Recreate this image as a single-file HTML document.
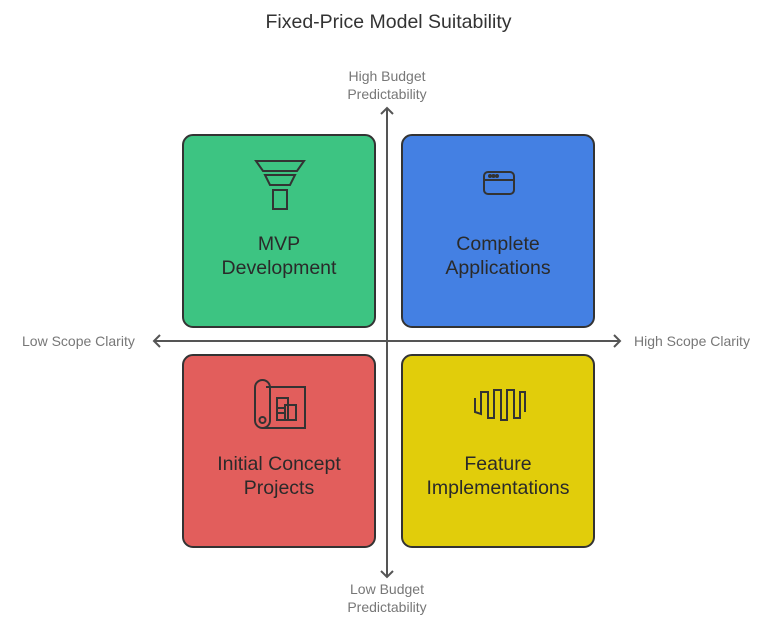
<!DOCTYPE html>
<html><head><style>
body{margin:0;width:777px;height:628px;background:#fff;font-family:"Liberation Sans",sans-serif;position:relative;overflow:hidden}
.t{position:absolute;text-align:center;white-space:nowrap}
.box{position:absolute;width:194px;height:194px;border:2px solid #333;border-radius:11px;box-sizing:border-box}
.lab{position:absolute;left:0;right:0;top:96px;text-align:center;font-size:19.5px;line-height:24px;color:#2a2a2a}
.ax{color:#777;font-size:14px;line-height:18px}
</style></head><body>
<div class="t" style="left:0;width:777px;top:11px;font-size:19.5px;color:#333">Fixed-Price Model Suitability</div>
<svg width="777" height="628" style="position:absolute;left:0;top:0">
<g stroke="#555" stroke-width="2" fill="none">
<line x1="387" y1="108" x2="387" y2="577"/>
<line x1="154" y1="341" x2="620" y2="341"/>
<polyline points="381,114 387,108 393,114"/>
<polyline points="381,571 387,577 393,571"/>
<polyline points="160,335 154,341 160,347"/>
<polyline points="614,335 620,341 614,347"/>
</g>
</svg>
<div class="t ax" style="left:327px;width:120px;top:67px">High Budget<br>Predictability</div>
<div class="t ax" style="left:327px;width:120px;top:580px">Low Budget<br>Predictability</div>
<div class="t ax" style="left:22px;top:332px">Low Scope Clarity</div>
<div class="t ax" style="left:634px;top:332px">High Scope Clarity</div>
<div class="box" style="left:182px;top:134px;background:#3dc482"><div class="lab">MVP<br>Development</div>
<svg style="position:absolute;left:70px;top:22px" width="52" height="54" fill="none" stroke="#333" stroke-width="2"><polygon points="2,3 50,3 43,13 9,13"/><polygon points="11,17 41,17 36,27 16,27"/><rect x="19" y="32" width="14" height="19"/></svg></div>
<div class="box" style="left:401px;top:134px;background:#4480e3"><div class="lab">Complete<br>Applications</div>
<svg style="position:absolute;left:79px;top:34px" width="36" height="28" fill="none" stroke="#333" stroke-width="2"><rect x="2" y="2" width="30" height="22" rx="4"/><line x1="2" y1="10" x2="32" y2="10"/><circle cx="8" cy="6" r="1" fill="#333"/><circle cx="11.5" cy="6" r="1" fill="#333"/><circle cx="15" cy="6" r="1" fill="#333"/></svg></div>
<div class="box" style="left:182px;top:354px;background:#e25e5c"><div class="lab">Initial Concept<br>Projects</div>
<svg style="position:absolute;left:69px;top:22px" width="54" height="54" fill="none" stroke="#333" stroke-width="2"><rect x="2" y="2" width="15" height="48" rx="7.5"/><circle cx="9.5" cy="42" r="3"/><polyline points="13,9 52,9 52,50 9,50"/><rect x="24" y="20" width="11" height="22"/><rect x="32" y="27" width="11" height="15"/><line x1="24" y1="30" x2="32" y2="30"/><line x1="24" y1="35" x2="32" y2="35"/></svg></div>
<div class="box" style="left:401px;top:354px;background:#e1cd0b"><div class="lab">Feature<br>Implementations</div>
<svg style="position:absolute;left:70px;top:32px" width="54" height="36" fill="none" stroke="#333" stroke-width="2"><polyline points="2,10 2,24 8,26 8,4 15,4 15,30 21,30 21,2 28,2 28,32 34,32 34,2 41,2 41,30 47,30 47,4 52,4 52,24"/></svg></div>
</body></html>
